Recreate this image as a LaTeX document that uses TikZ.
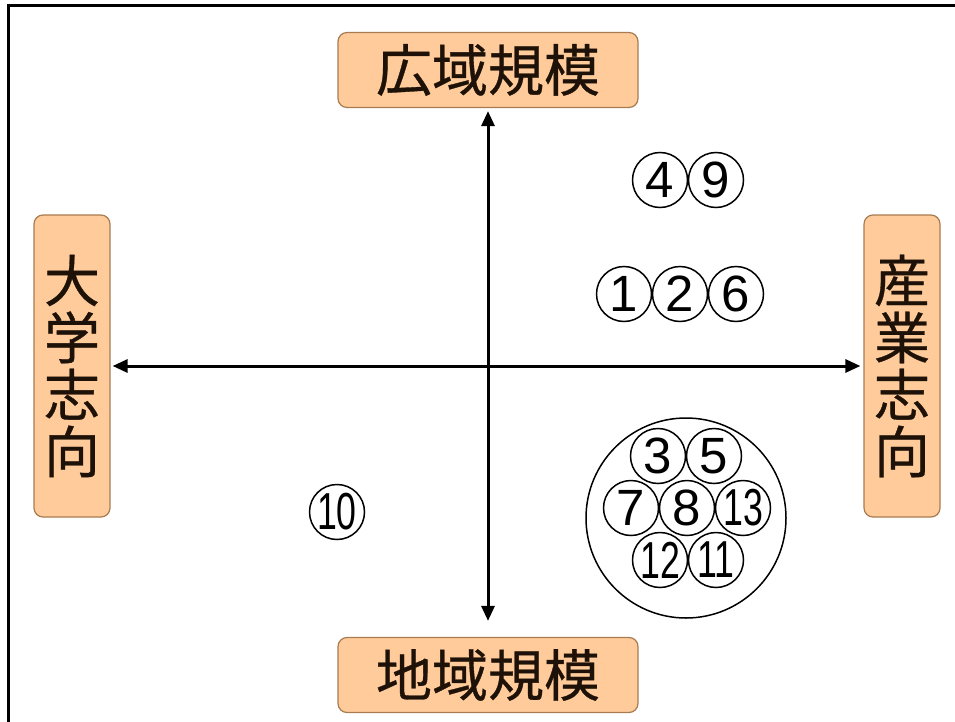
\documentclass[tikz,border=0pt]{standalone}
\usepackage{fontspec}
\setmainfont{Liberation Sans}
\newfontfamily\cjk[FakeBold=0.6]{Noto Sans CJK JP}
\usetikzlibrary{arrows.meta}
\definecolor{boxfill}{HTML}{FFCB9A}
\definecolor{boxline}{HTML}{A87C50}
\definecolor{txt}{HTML}{1E1208}
\tikzset{
  lbl/.style={draw=boxline, line width=1.2pt, fill=boxfill, rounded corners=9pt, text=txt, inner sep=0pt,
    font=\cjk\fontsize{56pt}{57pt}\selectfont, align=center},
  axis/.style={line width=3pt, {Triangle[length=15pt,width=13pt]}-{Triangle[length=15pt,width=13pt]}},
  num/.style={circle, draw, line width=1.5pt, minimum size=55pt, inner sep=0pt, font=\fontsize{51pt}{51pt}\selectfont},
  bignum/.style={circle, draw, line width=1.5pt, minimum size=200pt, inner sep=0pt},
}
\newcommand{\twod}[1]{\scalebox{0.7}[1.02]{#1}}
\begin{document}
\begin{tikzpicture}[x=1pt,y=-1pt]
\useasboundingbox (0,0) rectangle (955,722);
\fill[white] (0,0) rectangle (955,722);
\draw[line width=3pt] (8,722) -- (8,6) -- (955,6);
% labels
\node[lbl, minimum width=300pt, minimum height=75pt] (top) at (488,70) {広域規模};
\node[lbl, minimum width=300pt, minimum height=75pt] (bot) at (488,675) {地域規模};
\node[lbl, minimum width=76pt, minimum height=302pt] (left) at (72,366) {大\\学\\志\\向};
\node[lbl, minimum width=76pt, minimum height=302pt] (right) at (902,366) {産\\業\\志\\向};
% axes
\draw[axis, shorten <=3pt, shorten >=16pt] (top.south) -- (bot.north);
\draw[axis, shorten <=2pt, shorten >=3pt] (left.east) -- (right.west);
% numbers
\node[num] (n4) at (660,180) {4};
\node[num] (n9) at (716,180) {9};
\node[num] (n1) at (624,294) {1};
\node[num] (n2) at (680,294) {2};
\node[num] (n6) at (736,294) {6};
\node[num] (n10) at (337,512) {\twod{10}};
\node[bignum] (grp) at (686,518) {};
\node[num] (n3) at (658,456) {3};
\node[num] (n5) at (714,456) {5};
\node[num] (n7) at (631,508) {7};
\node[num] (n8) at (687,508) {8};
\node[num] (n13) at (743,508) {\twod{13}};
\node[num] (n12) at (660,560) {\twod{12}};
\node[num] (n11) at (716,560) {\twod{11}};
\end{tikzpicture}
\end{document}
